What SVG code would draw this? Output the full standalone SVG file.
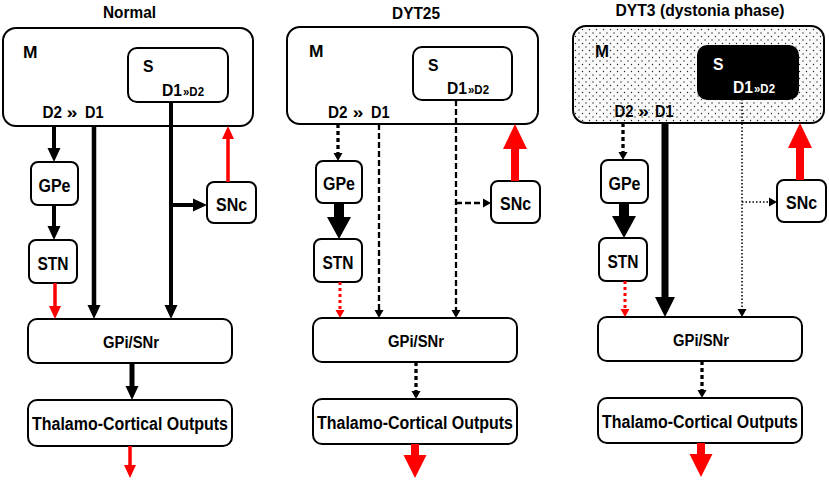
<svg xmlns="http://www.w3.org/2000/svg" width="829" height="483" viewBox="0 0 829 483">
<style>
text{font-family:"Liberation Sans",Arial,sans-serif;font-weight:bold;fill:#000}
.t{font-size:16.5px;text-anchor:middle}
.m{font-size:16.5px}
.d{font-size:17px}
.lb{font-size:18px;text-anchor:middle}
.gp{font-size:16px;text-anchor:middle}
.lg{font-size:17.5px;text-anchor:middle}
.sm{font-size:12px}
.box{fill:#fff;stroke:#000;stroke-width:2}
.w{fill:#fff}
.k{fill:none;stroke:#000}
.r{fill:none;stroke:#f00}
</style>
<defs>
<pattern id="dots" width="7" height="7" patternUnits="userSpaceOnUse">
<rect width="7" height="7" fill="#fafafa"/>
<circle cx="1.5" cy="1.5" r="0.7" fill="#222"/>
<circle cx="5" cy="5" r="0.7" fill="#222"/>
</pattern>
<marker id="mN" markerUnits="userSpaceOnUse" markerWidth="14" markerHeight="13" refX="1" refY="6.5" orient="auto" overflow="visible"><path d="M0,0L14,6.5L0,13z" fill="#000"/></marker>
<marker id="mR" markerUnits="userSpaceOnUse" markerWidth="13" markerHeight="12" refX="1" refY="6" orient="auto" overflow="visible"><path d="M0,0L13,6L0,12z" fill="#f00"/></marker>
<marker id="mS" markerUnits="userSpaceOnUse" markerWidth="8" markerHeight="9" refX="1" refY="4.5" orient="auto" overflow="visible"><path d="M0,0L8,4.5L0,9z" fill="#000"/></marker>
<marker id="mSR" markerUnits="userSpaceOnUse" markerWidth="8" markerHeight="9" refX="1" refY="4.5" orient="auto" overflow="visible"><path d="M0,0L8,4.5L0,9z" fill="#f00"/></marker>
<marker id="mB" markerUnits="userSpaceOnUse" markerWidth="22" markerHeight="24" refX="1" refY="12" orient="auto" overflow="visible"><path d="M0,0L22,12L0,24z" fill="#000"/></marker>
<marker id="mBR" markerUnits="userSpaceOnUse" markerWidth="25" markerHeight="24" refX="1" refY="12" orient="auto" overflow="visible"><path d="M0,0L25,12L0,24z" fill="#f00"/></marker>
<marker id="mBR2" markerUnits="userSpaceOnUse" markerWidth="23" markerHeight="23" refX="1" refY="11.5" orient="auto" overflow="visible"><path d="M0,0L23,11.5L0,23z" fill="#f00"/></marker>
<marker id="mM" markerUnits="userSpaceOnUse" markerWidth="20" markerHeight="20" refX="1" refY="10" orient="auto" overflow="visible"><path d="M0,0L20,10L0,20z" fill="#000"/></marker>
</defs>

<!-- Titles -->
<text class="t" x="129.5" y="18" textLength="53" lengthAdjust="spacingAndGlyphs">Normal</text>
<text class="t" x="416" y="19" textLength="48" lengthAdjust="spacingAndGlyphs">DYT25</text>
<text class="t" x="700" y="16" textLength="169" lengthAdjust="spacingAndGlyphs">DYT3 (dystonia phase)</text>

<!-- Panel 1: Normal -->
<g id="n-M">
<rect class="box" x="3" y="28" width="250" height="98" rx="13"/>
<text class="m" x="23" y="58" textLength="14.5" lengthAdjust="spacingAndGlyphs">M</text>
<text class="d" x="42.5" y="118" textLength="19.5" lengthAdjust="spacingAndGlyphs">D2</text><text class="d" x="66.5" y="118" textLength="11" lengthAdjust="spacingAndGlyphs">»</text><text class="d" x="85" y="118" textLength="18.5" lengthAdjust="spacingAndGlyphs">D1</text>
</g>
<g id="n-S">
<rect class="box" x="128" y="48" width="100" height="54" rx="9"/>
<text class="d" x="143" y="72" textLength="10.5" lengthAdjust="spacingAndGlyphs">S</text>
<text class="d" x="162" y="96" textLength="20" lengthAdjust="spacingAndGlyphs">D1</text><text class="sm" x="183" y="96" textLength="21" lengthAdjust="spacingAndGlyphs">»D2</text>
</g>
<g id="n-GPe"><rect class="box" x="31" y="162" width="47" height="43" rx="7"/><text class="lb" x="54.5" y="191.5" textLength="32" lengthAdjust="spacingAndGlyphs">GPe</text></g>
<g id="n-STN"><rect class="box" x="29" y="240" width="48" height="43" rx="7"/><text class="lb" x="53" y="269.5" textLength="31" lengthAdjust="spacingAndGlyphs">STN</text></g>
<g id="n-SNc"><rect class="box" x="207" y="182" width="49" height="41" rx="7"/><text class="lb" x="231.5" y="210.5" textLength="31" lengthAdjust="spacingAndGlyphs">SNc</text></g>
<g id="n-GPi"><rect class="box" x="28" y="319" width="204" height="44" rx="9"/><text class="gp" x="131" y="348" textLength="56" lengthAdjust="spacingAndGlyphs">GPi/SNr</text></g>
<g id="n-TC"><rect class="box" x="28" y="400" width="204" height="46" rx="9"/><text class="lg" x="130" y="430" textLength="196" lengthAdjust="spacingAndGlyphs">Thalamo-Cortical Outputs</text></g>

<!-- Panel 2: DYT25 -->
<g id="d-M">
<rect class="box" x="287" y="27" width="251" height="97" rx="13"/>
<text class="m" x="309" y="57" textLength="14.5" lengthAdjust="spacingAndGlyphs">M</text>
<text class="d" x="328" y="118" textLength="19.5" lengthAdjust="spacingAndGlyphs">D2</text><text class="d" x="352.5" y="118" textLength="11" lengthAdjust="spacingAndGlyphs">»</text><text class="d" x="371" y="118" textLength="18.5" lengthAdjust="spacingAndGlyphs">D1</text>
</g>
<g id="d-S">
<rect class="box" x="413" y="47" width="99" height="53" rx="9"/>
<text class="d" x="428" y="71" textLength="10.5" lengthAdjust="spacingAndGlyphs">S</text>
<text class="d" x="447" y="94" textLength="20" lengthAdjust="spacingAndGlyphs">D1</text><text class="sm" x="468" y="94" textLength="21" lengthAdjust="spacingAndGlyphs">»D2</text>
</g>
<g id="d-GPe"><rect class="box" x="316" y="161" width="46" height="42" rx="7"/><text class="lb" x="339" y="190" textLength="32" lengthAdjust="spacingAndGlyphs">GPe</text></g>
<g id="d-STN"><rect class="box" x="314" y="239" width="48" height="43" rx="7"/><text class="lb" x="338" y="268.5" textLength="31" lengthAdjust="spacingAndGlyphs">STN</text></g>
<g id="d-SNc"><rect class="box" x="491" y="181" width="49" height="42" rx="7"/><text class="lb" x="515.5" y="210" textLength="31" lengthAdjust="spacingAndGlyphs">SNc</text></g>
<g id="d-GPi"><rect class="box" x="313" y="318" width="204" height="44" rx="9"/><text class="gp" x="416" y="347" textLength="56" lengthAdjust="spacingAndGlyphs">GPi/SNr</text></g>
<g id="d-TC"><rect class="box" x="313" y="399" width="204" height="45" rx="9"/><text class="lg" x="415" y="428.5" textLength="196" lengthAdjust="spacingAndGlyphs">Thalamo-Cortical Outputs</text></g>

<!-- Panel 3: DYT3 -->
<g id="t-M">
<rect x="573" y="26" width="251" height="97" rx="13" fill="url(#dots)" stroke="#000" stroke-width="2"/>
<text class="m" x="595" y="57" textLength="14" lengthAdjust="spacingAndGlyphs">M</text>
<text class="d" x="614.5" y="116.5" textLength="19" lengthAdjust="spacingAndGlyphs">D2</text><text class="d" x="638" y="116.5" textLength="11" lengthAdjust="spacingAndGlyphs">»</text><text class="d" x="655" y="116.5" textLength="18.5" lengthAdjust="spacingAndGlyphs">D1</text>
</g>
<g id="t-S">
<rect x="698" y="46" width="100" height="53" rx="9" fill="#000" stroke="#000" stroke-width="2"/>
<text class="d w" x="713" y="70" textLength="10.5" lengthAdjust="spacingAndGlyphs">S</text>
<text class="d w" x="733" y="93" textLength="20" lengthAdjust="spacingAndGlyphs">D1</text><text class="sm w" x="754" y="93" textLength="21" lengthAdjust="spacingAndGlyphs">»D2</text>
</g>
<g id="t-GPe"><rect class="box" x="601" y="160" width="47" height="43" rx="7"/><text class="lb" x="624.5" y="189.5" textLength="32" lengthAdjust="spacingAndGlyphs">GPe</text></g>
<g id="t-STN"><rect class="box" x="599" y="238" width="48" height="43" rx="7"/><text class="lb" x="623" y="267.5" textLength="31" lengthAdjust="spacingAndGlyphs">STN</text></g>
<g id="t-SNc"><rect class="box" x="777" y="180" width="49" height="42" rx="7"/><text class="lb" x="801.5" y="209" textLength="31" lengthAdjust="spacingAndGlyphs">SNc</text></g>
<g id="t-GPi"><rect class="box" x="598" y="317" width="204" height="44" rx="9"/><text class="gp" x="701" y="346" textLength="56" lengthAdjust="spacingAndGlyphs">GPi/SNr</text></g>
<g id="t-TC"><rect class="box" x="598" y="398" width="204" height="45" rx="9"/><text class="lg" x="700" y="427.5" textLength="196" lengthAdjust="spacingAndGlyphs">Thalamo-Cortical Outputs</text></g>

<g id="connectors">
<!-- Normal -->
<path class="k" stroke-width="4" d="M54,126V149" marker-end="url(#mN)"/>
<path class="k" stroke-width="4.5" d="M94,126V306" marker-end="url(#mN)"/>
<path class="k" stroke-width="4" d="M171,102V306" marker-end="url(#mN)"/>
<path class="k" stroke-width="4" d="M171,205H194" marker-end="url(#mN)"/>
<path class="r" stroke-width="3.5" d="M228,182V138" marker-end="url(#mR)"/>
<path class="k" stroke-width="4" d="M54,205V227" marker-end="url(#mN)"/>
<path class="r" stroke-width="3.5" d="M55,283V307" marker-end="url(#mR)"/>
<path class="k" stroke-width="5" d="M132,363V387" marker-end="url(#mN)"/>
<path class="r" stroke-width="3.5" d="M130,446V466" marker-end="url(#mR)"/>
<!-- DYT25 -->
<path class="k" stroke-width="3.3" stroke-dasharray="4 3" d="M338,124V154" marker-end="url(#mS)"/>
<path class="k" stroke-width="2.3" stroke-dasharray="6 3" d="M379,124V311" marker-end="url(#mS)"/>
<path class="k" stroke-width="2.3" stroke-dasharray="6 3" d="M456,100V311" marker-end="url(#mS)"/>
<path class="k" stroke-width="2.3" stroke-dasharray="6 3" d="M456,203H484" marker-end="url(#mS)"/>
<path class="k" stroke-width="10" d="M339,203V218" marker-end="url(#mB)"/>
<path class="r" stroke-width="8" d="M515,181V148" marker-end="url(#mBR)"/>
<path class="r" stroke-width="3" stroke-dasharray="3 3" d="M340,282V311" marker-end="url(#mSR)"/>
<path class="k" stroke-width="3.3" stroke-dasharray="4 3" d="M416,362V392" marker-end="url(#mS)"/>
<path class="r" stroke-width="8" d="M415,444V456" marker-end="url(#mBR2)"/>
<!-- DYT3 -->
<path class="k" stroke-width="3.3" stroke-dasharray="4 3" d="M623,123V153" marker-end="url(#mS)"/>
<path class="k" stroke-width="7" d="M665,123V298" marker-end="url(#mM)"/>
<path class="k" stroke-width="1.5" stroke-dasharray="1.5 2" d="M742,99V310" marker-end="url(#mS)"/>
<path class="k" stroke-width="1.5" stroke-dasharray="1.5 2" d="M742,202H770" marker-end="url(#mS)"/>
<path class="k" stroke-width="10" d="M624,203V217" marker-end="url(#mB)"/>
<path class="r" stroke-width="8" d="M800,180V147" marker-end="url(#mBR)"/>
<path class="r" stroke-width="3" stroke-dasharray="3 3" d="M625,281V310" marker-end="url(#mSR)"/>
<path class="k" stroke-width="3.3" stroke-dasharray="4 3" d="M702,361V391" marker-end="url(#mS)"/>
<path class="r" stroke-width="8" d="M701,443V455" marker-end="url(#mBR2)"/>
</g>
</svg>
